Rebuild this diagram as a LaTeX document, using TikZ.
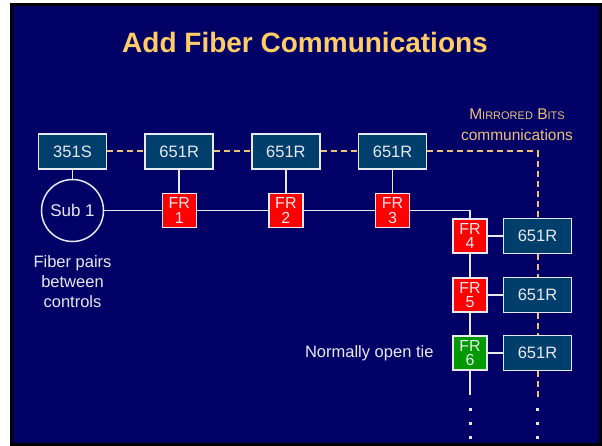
\documentclass[tikz,border=0pt]{standalone}
\usepackage{fontspec}
\setmainfont{Liberation Sans}
\usepackage{tikz}
\usetikzlibrary{positioning}

\definecolor{slidebg}{RGB}{0,0,102}
\definecolor{relayblue}{RGB}{0,62,108}
\definecolor{titleyellow}{RGB}{255,204,102}
\definecolor{mbtan}{RGB}{236,192,120}
\definecolor{softwhite}{RGB}{232,232,240}
\definecolor{frred}{RGB}{255,0,0}
\definecolor{frgreen}{RGB}{0,153,0}

\begin{document}
\begin{tikzpicture}[x=1pt,y=-1pt,node distance=106.7pt]
  \tikzstyle{relay}=[draw=softwhite,line width=1.5pt,fill=relayblue,text=softwhite,
    minimum width=68pt,minimum height=35pt,inner sep=0pt,font=\fontsize{16.5}{16}\selectfont]
  \tikzstyle{recloser}=[draw=softwhite,line width=1.2pt,fill=frred,text=softwhite,
    minimum width=34pt,minimum height=34pt,inner sep=0pt,align=center,
    font=\fontsize{16}{14.5}\selectfont]
  \tikzstyle{fiberline}=[draw=softwhite,line width=1.5pt]
  \tikzstyle{mblink}=[draw=mbtan,line width=2pt,dash pattern=on 6pt off 4pt]
  \tikzstyle{note}=[text=softwhite,font=\fontsize{16.5}{20}\selectfont,align=center]

  % slide frame
  \useasboundingbox (0,0) rectangle (602,446);
  \fill[white] (0,0) rectangle (602,446);
  \fill[black] (10,3) rectangle (602,446);
  \fill[slidebg] (13,6) rectangle (599,443);

  \node[text=titleyellow,font=\fontsize{28}{28}\selectfont\bfseries] (title) at (305,42) {Add Fiber Communications};

  % relays along the top
  \node[relay] (s351) at (72.5,151.5) {351S};
  \node[relay] (r1) [right of=s351] {651R};
  \node[relay] (r2) [right of=r1] {651R};
  \node[relay] (r3) [right of=r2] {651R};

  \node[circle,draw=softwhite,line width=1.5pt,minimum size=62pt,inner sep=0pt,
    text=softwhite,font=\fontsize{17}{17}\selectfont] (sub) at (72.5,210.5) {Sub 1};

  % reclosers
  \node[recloser] (fr1) [below of=r1,node distance=59pt] {FR\\1};
  \node[recloser] (fr2) [below of=r2,node distance=59pt] {FR\\2};
  \node[recloser] (fr3) [below of=r3,node distance=59pt] {FR\\3};
  \node[recloser] (fr4) at (470,236) {FR\\4};
  \node[recloser] (fr5) [below of=fr4,node distance=59pt] {FR\\5};
  \node[recloser,fill=frgreen] (fr6) [below of=fr5,node distance=58pt] {FR\\6};

  \node[relay] (rr4) [right of=fr4,node distance=67.5pt] {651R};
  \node[relay] (rr5) [right of=fr5,node distance=67.5pt] {651R};
  \node[relay] (rr6) [right of=fr6,node distance=67.5pt] {651R};

  \coordinate (corner) at (rr4.center |- r3.east);
  \coordinate (feedend) at (470,395);
  \coordinate (mbend) at (537.5,397);

  % mirrored bits links
  \draw[mblink] (s351) -- (r1);
  \draw[mblink] (r1) -- (r2);
  \draw[mblink] (r2) -- (r3);
  \draw[mblink] (r3) -- (corner) -- (rr4);
  \draw[mblink] (rr4) -- (rr5);
  \draw[mblink] (rr5) -- (rr6);
  \draw[mblink] (rr6) -- (mbend);

  % fiber pairs
  \draw[fiberline] (s351) -- (sub);
  \draw[fiberline] (r1) -- (fr1);
  \draw[fiberline] (r2) -- (fr2);
  \draw[fiberline] (r3) -- (fr3);
  \draw[fiberline] (sub) -- (fr1);
  \draw[fiberline] (fr1) -- (fr2);
  \draw[fiberline] (fr2) -- (fr3);
  \draw[fiberline] (fr3.east) -| (fr4.north);
  \draw[fiberline] (fr4) -- (rr4);
  \draw[fiberline] (fr5) -- (rr5);
  \draw[fiberline] (fr6) -- (rr6);
  \draw[fiberline] (fr4) -- (fr5);
  \draw[fiberline] (fr5) -- (fr6);
  \draw[fiberline] (fr6) -- (feedend);

  % continuation dots
  \foreach \y in {409,423,437} {
    \fill[softwhite] (470,\y) ++(-1.5,-1.5) rectangle ++(3,3);
    \fill[softwhite] (537.5,\y) ++(-1.5,-1.5) rectangle ++(3,3);
  }

  % labels
  \node[note] (pairs) at (72.5,282) {Fiber pairs\\between\\controls};
  \node[note,anchor=east] (tie) at (437,353) {Normally open tie};
  \node[text=mbtan,font=\fontsize{15.5}{21}\selectfont,align=center] (mb) at (517,125)
    {M{\fontsize{11}{11}\selectfont IRRORED} B{\fontsize{11}{11}\selectfont ITS}\\communications};
\end{tikzpicture}
\end{document}
